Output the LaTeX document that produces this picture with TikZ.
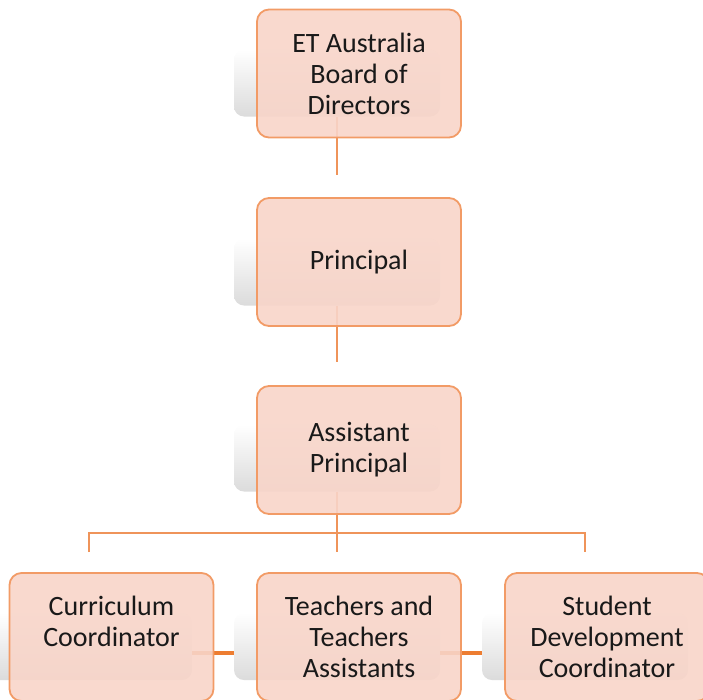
\documentclass[tikz,border=0pt]{standalone}
\usepackage{fontspec}
\setmainfont{Carlito}
\definecolor{boxfill}{HTML}{F8D5C9}
\definecolor{boxline}{HTML}{F29B66}
\definecolor{thinline}{HTML}{EF945A}
\definecolor{thickline}{HTML}{ED7D31}
\begin{document}
\begin{tikzpicture}[x=1pt,y=-1pt,
  orgbox/.style={draw=boxline, line width=1.8pt, rounded corners=12pt,
    fill=boxfill, fill opacity=0.9, text opacity=1,
    minimum width=204pt, minimum height=128pt, inner sep=0pt,
    align=center, font=\fontsize{28}{31}\selectfont, text=black!90},
  shadowbox/.style={rounded corners=10pt, top color=white, bottom color=black!14,
    minimum width=206pt, minimum height=67pt, inner sep=0pt},
  conn/.style={draw=thinline, line width=2pt},
  link/.style={draw=thickline, line width=4pt}]
\useasboundingbox (0,0) rectangle (703,699);
\clip (0,0) rectangle (703,699);
% shadow shapes
\node[shadowbox] (g1) at (337,83) {};
\node[shadowbox] (g2) at (337,272) {};
\node[shadowbox] (g3) at (337,458) {};
\node[shadowbox] (g4) at (89,646.5) {};
\node[shadowbox] (g5) at (337,646.5) {};
\node[shadowbox] (g6) at (585,646.5) {};
% connector ends
\coordinate (c1) at (337,175);
\coordinate (c2) at (337,362);
\coordinate (mb) at (337,552);
\coordinate (lt) at (89,533);
\coordinate (rt) at (585,533);
\coordinate (lb) at (89,552);
\coordinate (rb) at (585,552);
% connectors
\draw[conn] (g1.south) -- (c1);
\draw[conn] (g2.south) -- (c2);
\draw[conn] (g3.south) -- (mb);
\draw[conn] (lb) -- (lt) -- (rt) -- (rb);
\draw[link] ([yshift=-6.5pt]g4.east) -- ([yshift=-6.5pt]g5.west);
\draw[link] ([yshift=-6.5pt]g5.east) -- ([yshift=-6.5pt]g6.west);
% boxes
\node[orgbox] (b1) at (359,73.5) {ET Australia\\Board of\\Directors};
\node[orgbox] (b2) at (359,262) {Principal};
\node[orgbox] (b3) at (359,450) {Assistant\\Principal};
\node[orgbox] (b4) at (111.5,637) {Curriculum\\Coordinator\\\mbox{}};
\node[orgbox] (b5) at (359,637) {Teachers and\\Teachers\\Assistants};
\node[orgbox] (b6) at (607,637) {Student\\Development\\Coordinator};
\end{tikzpicture}
\end{document}
